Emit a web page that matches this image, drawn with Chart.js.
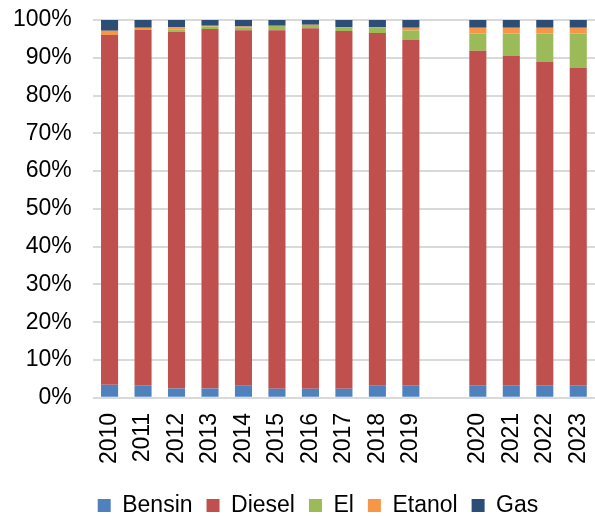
<!DOCTYPE html>
<html>
<head>
<meta charset="utf-8">
<script src="https://cdn.jsdelivr.net/npm/chart.js@4"></script>
<style>
  html, body { margin: 0; padding: 0; background: #fff; }
  #wrap { width: 595px; height: 516px; }
</style>
</head>
<body>
<div id="wrap"><canvas id="chart" width="595" height="516"></canvas></div>
<script>
// Year labels, with an empty slot between 2019 and 2020
const years = ['2010', '2011', '2012', '2013', '2014', '2015', '2016', '2017', '2018', '2019', '', '2020', '2021', '2022', '2023'];

// Shares in percent
const bensin = [3.45, 3.35, 2.5, 2.5, 3.2, 2.4, 2.4, 2.4, 3.2, 3.35, null, 3.3, 3.3, 3.3, 3.3];
const diesel = [92.6, 94.05, 94.4, 95.1, 94.1, 94.9, 95.4, 94.7, 93.35, 91.35, null, 88.55, 87.2, 85.6, 84.0];
const el = [0, 0, 0.6, 0.7, 0.75, 1.1, 0.9, 0.95, 1.5, 2.55, null, 4.6, 5.95, 7.55, 9.15];
const etanol = [1.1, 0.55, 0.6, 0.2, 0.25, 0.1, 0.05, 0, 0, 0.7, null, 1.5, 1.5, 1.5, 1.5];
const gas = [2.85, 2.05, 1.9, 1.5, 1.7, 1.5, 1.25, 1.95, 1.95, 2.05, null, 2.05, 2.05, 2.05, 2.05];

const FONT = { family: '"Liberation Sans", Arial, sans-serif', size: 23 };

// nudge the legend a bit, Excel doesn't centre it on the canvas
const LEGEND_DX = 14;
const LEGEND_DY = 1;
const legendShift = {
    id: 'legendShift',
    afterLayout(chart) {
        const lg = chart.legend;
        lg.left += LEGEND_DX;
        lg.right += LEGEND_DX;
        lg.top += LEGEND_DY;
        lg.bottom += LEGEND_DY;
    }
};

function makeSet(label, data, color) {
    return {
        label: label,
        data: data,
        backgroundColor: color,
        borderWidth: 0,
        barPercentage: 0.51,
        categoryPercentage: 1.0
    };
}

let ctx = document.getElementById('chart').getContext('2d');
new Chart(ctx, {
    type: 'bar',
    data: {
        labels: years,
        datasets: [
            makeSet('Bensin', bensin, '#4F81BD'),
            makeSet('Diesel', diesel, '#C0504D'),
            makeSet('El', el, '#9BBB59'),
            makeSet('Etanol', etanol, '#F79646'),
            makeSet('Gas', gas, '#2C4D75')
        ]
    },
    plugins: [legendShift],
    options: {
        responsive: false,
        animation: false,
        layout: { padding: { top: 20, right: 0, left: 13, bottom: -10 } },
        plugins: {
            tooltip: { enabled: false },
            legend: {
                position: 'bottom',
                labels: {
                    font: FONT,
                    color: '#000',
                    boxWidth: 13,
                    boxHeight: 13,
                    padding: 14
                }
            }
        },
        scales: {
            x: {
                stacked: true,
                grid: { display: false, drawTicks: false },
                border: { display: false },
                ticks: {
                    font: FONT,
                    color: '#000',
                    minRotation: 90,
                    maxRotation: 90,
                    padding: 15,
                    autoSkip: false
                },
                // rotated labels reserve room on the right, plot should run to the edge
                afterFit: scale => {
                    scale.paddingLeft = 0;
                    scale.paddingRight = 0;
                }
            },
            y: {
                stacked: true,
                min: 0,
                max: 100,
                grid: { color: '#D9D9D9', lineWidth: 2, drawTicks: true, tickLength: 21, tickColor: 'rgba(0,0,0,0)' },
                border: { display: false },
                ticks: {
                    font: FONT,
                    color: '#000',
                    stepSize: 10,
                    padding: 0,
                    callback: v => v + '%'
                }
            }
        }
    }
});
</script>
</body>
</html>
